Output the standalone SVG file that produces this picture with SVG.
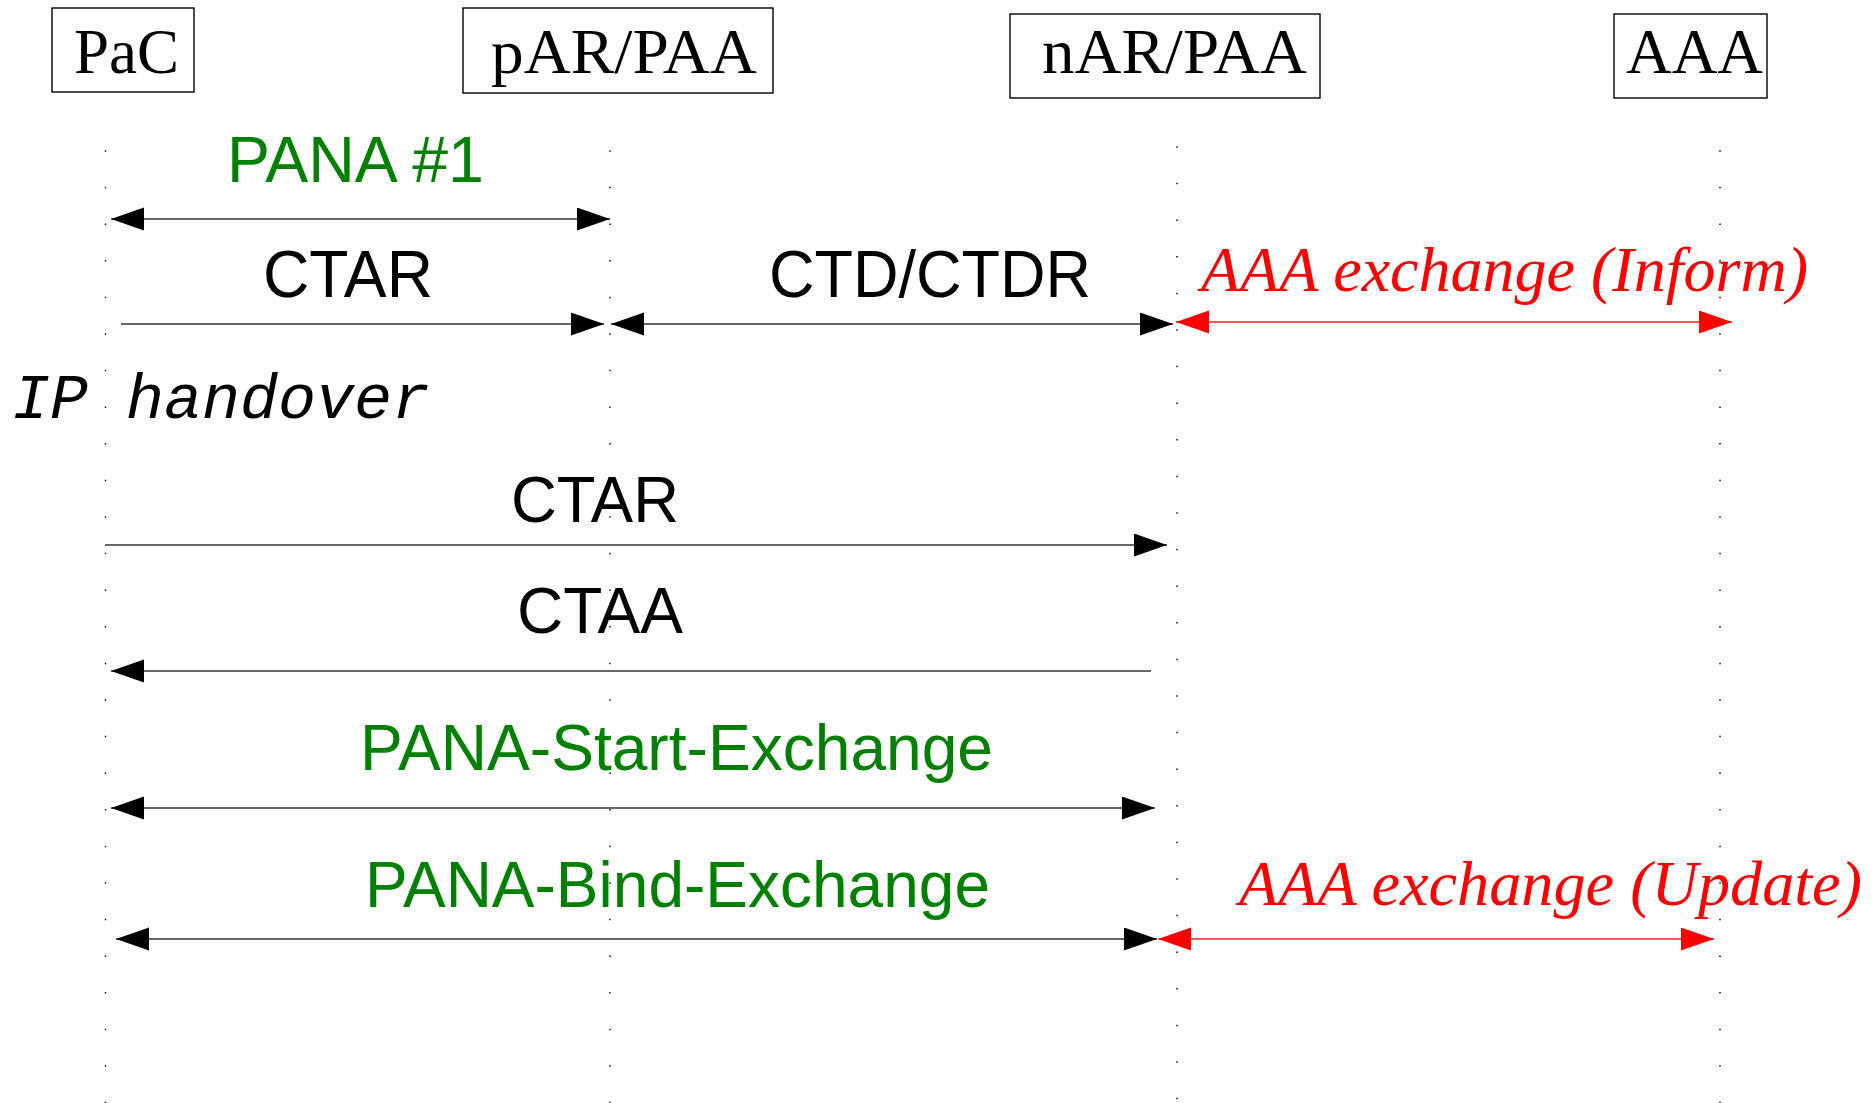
<svg xmlns="http://www.w3.org/2000/svg" width="1875" height="1103" viewBox="0 0 1875 1103">
<style>
  .box { fill: #fff; stroke: #000; stroke-width: 1.4; }
  .boxlbl { font-family: "Liberation Serif", "Times New Roman", serif; font-size: 64px; fill: #000; }
  .life { stroke: #000; stroke-width: 1.4; stroke-dasharray: 1.5 35.1; fill: none; }
  .msg { stroke: #333; stroke-width: 1.5; fill: none; }
  .red { stroke: #ff2020; stroke-width: 1.5; fill: none; }
  .lbl { font-family: "Liberation Sans", Arial, sans-serif; fill: #000; }
  .green { font-family: "Liberation Sans", Arial, sans-serif; font-size: 64px; fill: #008000; }
  .aaa { font-family: "Liberation Serif", "Times New Roman", serif; font-style: italic; font-size: 64px; fill: #ff0000; }
  .mono { font-family: "Liberation Mono", "Courier New", monospace; font-style: italic; font-size: 63px; fill: #000; }
</style>
<defs>
  <marker id="ah" markerUnits="userSpaceOnUse" markerWidth="34" markerHeight="24" refX="33" refY="11.5" orient="auto-start-reverse">
    <path d="M0,0 L33,11.5 L0,23 Z" fill="#000"/>
  </marker>
  <marker id="ahr" markerUnits="userSpaceOnUse" markerWidth="34" markerHeight="24" refX="33" refY="11.5" orient="auto-start-reverse">
    <path d="M0,0 L33,11.5 L0,23 Z" fill="#ff0000"/>
  </marker>
</defs>

<g id="lifelines">
  <line class="life" x1="105.5" y1="150.25" x2="105.5" y2="1103"/>
  <line class="life" x1="610" y1="150.25" x2="610" y2="1103"/>
  <line class="life" x1="1177" y1="146.25" x2="1177" y2="1103"/>
  <line class="life" x1="1720" y1="150.25" x2="1720" y2="1103"/>
</g>

<g id="PaC">
  <rect class="box" x="52" y="8" width="142" height="84"/>
  <text class="boxlbl" x="74" y="73" textLength="105" lengthAdjust="spacingAndGlyphs">PaC</text>
</g>
<g id="pAR">
  <rect class="box" x="463" y="8" width="310" height="85"/>
  <text class="boxlbl" x="491" y="73" textLength="266" lengthAdjust="spacingAndGlyphs">pAR/PAA</text>
</g>
<g id="nAR">
  <rect class="box" x="1010" y="14" width="310" height="84"/>
  <text class="boxlbl" x="1042" y="73" textLength="265" lengthAdjust="spacingAndGlyphs">nAR/PAA</text>
</g>
<g id="AAA">
  <rect class="box" x="1614" y="14" width="153" height="84"/>
  <text class="boxlbl" x="1626" y="73" textLength="137" lengthAdjust="spacingAndGlyphs">AAA</text>
</g>

<g id="connectors">
  <line class="msg" x1="111" y1="219" x2="610" y2="219" marker-start="url(#ah)" marker-end="url(#ah)"/>
  <line class="msg" x1="121" y1="324" x2="604" y2="324" marker-end="url(#ah)"/>
  <line class="msg" x1="611" y1="324" x2="1173" y2="324" marker-start="url(#ah)" marker-end="url(#ah)"/>
  <line class="red" x1="1176" y1="322" x2="1732" y2="322" marker-start="url(#ahr)" marker-end="url(#ahr)"/>
  <line class="msg" x1="105" y1="545" x2="1167" y2="545" marker-end="url(#ah)"/>
  <line class="msg" x1="1151" y1="671" x2="111" y2="671" marker-end="url(#ah)"/>
  <line class="msg" x1="111" y1="808" x2="1155" y2="808" marker-start="url(#ah)" marker-end="url(#ah)"/>
  <line class="msg" x1="116" y1="939" x2="1157" y2="939" marker-start="url(#ah)" marker-end="url(#ah)"/>
  <line class="red" x1="1158" y1="939" x2="1714" y2="939" marker-start="url(#ahr)" marker-end="url(#ahr)"/>
</g>

<g id="labels">
  <text class="green" x="227" y="182" font-size="63" textLength="257" lengthAdjust="spacingAndGlyphs">PANA #1</text>
  <text class="lbl" x="263" y="297" font-size="66" textLength="170" lengthAdjust="spacingAndGlyphs">CTAR</text>
  <text class="lbl" x="769" y="297" font-size="66" textLength="322" lengthAdjust="spacingAndGlyphs">CTD/CTDR</text>
  <text class="aaa" x="1201" y="291" textLength="607" lengthAdjust="spacingAndGlyphs">AAA exchange (Inform)</text>
  <text class="mono" x="12" y="418" textLength="418" lengthAdjust="spacingAndGlyphs">IP handover</text>
  <text class="lbl" x="511" y="522" font-size="64" textLength="168" lengthAdjust="spacingAndGlyphs">CTAR</text>
  <text class="lbl" x="517" y="633" font-size="64" textLength="166" lengthAdjust="spacingAndGlyphs">CTAA</text>
  <text class="green" x="360" y="770" textLength="633" lengthAdjust="spacingAndGlyphs">PANA-Start-Exchange</text>
  <text class="green" x="365" y="907" textLength="625" lengthAdjust="spacingAndGlyphs">PANA-Bind-Exchange</text>
  <text class="aaa" x="1239" y="905" textLength="623" lengthAdjust="spacingAndGlyphs">AAA exchange (Update)</text>
</g>
</svg>
